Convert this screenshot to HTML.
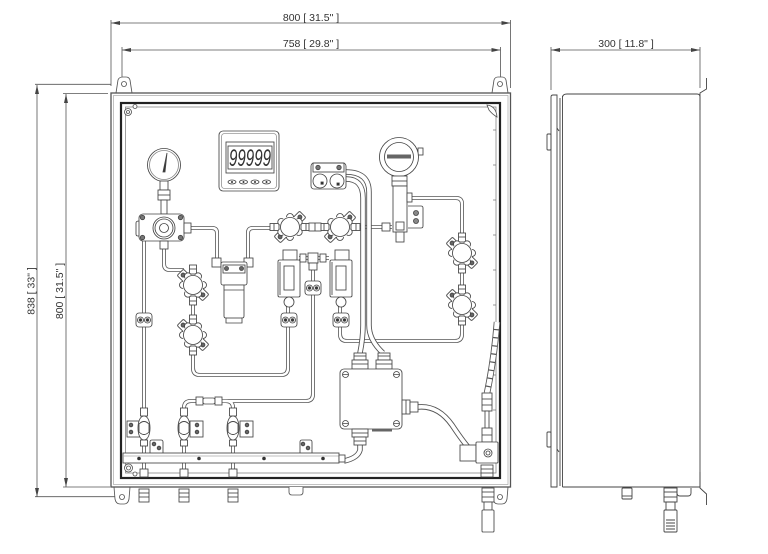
<!DOCTYPE html>
<html><head><meta charset="utf-8"><style>
html,body{margin:0;padding:0;background:#fff;}
svg{display:block;}
text{font-family:"Liberation Sans",sans-serif;fill:#333;}
</style></head><body>
<svg width="768" height="554" viewBox="0 0 768 554" xmlns="http://www.w3.org/2000/svg">
<defs>
 <g id="vlv">
  <g transform="rotate(-45)"><rect x="8" y="-4.5" width="10" height="9" rx="1.5"/><circle cx="14" cy="0" r="2" fill="#666"/></g>
  <g transform="rotate(135)"><rect x="8" y="-4.5" width="10" height="9" rx="1.5"/><circle cx="14" cy="0" r="2" fill="#666"/></g>
  <rect x="-20" y="-3.5" width="9" height="7"/><rect x="11" y="-3.5" width="9" height="7"/>
  <line x1="-16" y1="-3.5" x2="-16" y2="3.5"/><line x1="16" y1="-3.5" x2="16" y2="3.5"/>
  <circle cx="0" cy="-10" r="3.5"/><circle cx="0" cy="10" r="3.5"/>
  <circle cx="8.7" cy="-5" r="3.5"/><circle cx="-8.7" cy="-5" r="3.5"/>
  <circle cx="8.7" cy="5" r="3.5"/><circle cx="-8.7" cy="5" r="3.5"/>
  <circle r="10.5" stroke="none"/>
  <circle r="9.5"/>
 </g>
 <g id="clp">
  <rect x="-8" y="-7" width="16" height="14" rx="3"/>
  <circle cx="-3.5" cy="0" r="3"/><circle cx="3.5" cy="0" r="3"/>
  <circle cx="-3.5" cy="0" r="1.3" fill="#333"/><circle cx="3.5" cy="0" r="1.3" fill="#333"/>
 </g>
 <g id="fitv">
  <rect x="-5" y="0" width="10" height="13"/>
  <line x1="-5" y1="4" x2="5" y2="4"/><line x1="-5" y1="8" x2="5" y2="8"/>
 </g>
 <g id="bv">
  <rect x="-3.5" y="-20" width="7" height="8"/>
  <path d="M0 -12 C8 -12 8 12 0 12 C-8 12 -8 -12 0 -12 Z"/>
  <path d="M-5 -4 Q0 -9 5 -4 L5 4 Q0 9 -5 4 Z"/>
  <rect x="-3.5" y="12" width="7" height="6"/>
 </g>
</defs>

<!-- ============ DIMENSIONS ============ -->
<g stroke="#555" stroke-width="0.8" fill="none">
 <path d="M111 23 H510.5 M122 50 H500.5 M111 20 V86 M510.5 20 V88 M122 47 V80 M500.5 47 V78"/>
 <path d="M37 85 V497 M66 94 V487 M35 84.3 H111 M35 496.7 H115 M63 93.5 H108 M63 487 H110"/>
 <path d="M551 50 H700 M551 47 V90 M700 47 V88"/>
</g>
<g fill="#444">
 <polygon points="111,23 120,21 120,25"/><polygon points="510.5,23 501.5,21 501.5,25"/>
 <polygon points="122,50 131,48 131,52"/><polygon points="500.5,50 491.5,48 491.5,52"/>
 <polygon points="37,85 35,94 39,94"/><polygon points="37,497 35,488 39,488"/>
 <polygon points="66,94 64,103 68,103"/><polygon points="66,487 64,478 68,478"/>
 <polygon points="551,50 560,48 560,52"/><polygon points="700,50 691,48 691,52"/>
</g>
<text x="311" y="21" font-size="10.5" text-anchor="middle">800 [ 31.5" ]</text>
<text x="311" y="47" font-size="10.5" text-anchor="middle">758 [ 29.8" ]</text>
<text x="626" y="47" font-size="10.5" text-anchor="middle">300 [ 11.8" ]</text>
<text transform="translate(34.5,291) rotate(-90)" font-size="10.5" text-anchor="middle">838 [ 33" ]</text>
<text transform="translate(63,291) rotate(-90)" font-size="10.5" text-anchor="middle">800 [ 31.5" ]</text>

<!-- ============ FRONT ENCLOSURE ============ -->
<g stroke="#555" stroke-width="0.85" fill="#fff">
 <path d="M116 93 L118 80 Q119 77 123 77 L126 77 Q129 77 130 80 L132 93 Z"/><circle cx="124" cy="84" r="2.5"/>
 <path d="M492 93 L494 80 Q495 77 498 77 L502 77 Q505 77 506 80 L508 93 Z"/><circle cx="500" cy="84" r="2.5"/>
 <path d="M114 487 L115 499 Q116 504 120 504 L124 504 Q128 504 129 499 L130 487 Z"/><circle cx="122" cy="497" r="2.5"/>
 <path d="M492 487 L493 499 Q494 504 498 504 L502 504 Q506 504 507 499 L508 487 Z"/><circle cx="500" cy="497" r="2.5"/>
</g>
<rect x="111" y="93" width="399.5" height="394" fill="none" stroke="#555" stroke-width="1.3"/>
<rect x="113.5" y="95.5" width="394.5" height="389" fill="none" stroke="#999" stroke-width="0.6"/>
<rect x="121" y="103" width="379" height="375" fill="none" stroke="#222" stroke-width="2.2"/>
<rect x="125.5" y="107" width="370.5" height="366" fill="none" stroke="#888" stroke-width="0.8"/>
<g stroke="#777" stroke-width="0.8">
 <path d="M496 130 h-3 M496 165 h-3 M496 200 h-3 M496 235 h-3 M496 270 h-3 M496 305 h-3 M496 340 h-3 M496 375 h-3 M496 410 h-3 M496 445 h-3"/>
</g>
<g stroke="#555" stroke-width="0.85" fill="#fff">
 <circle cx="128" cy="112" r="3.5"/><circle cx="128" cy="112" r="1.5"/><circle cx="135" cy="106.5" r="2"/>
 <path d="M487 105 Q496 106 497 117 Q492 114 489 110 Z"/>
 <circle cx="128.5" cy="468" r="4"/><circle cx="128.5" cy="468" r="2"/><circle cx="135" cy="474" r="2"/>
 <path d="M289 487 V492 Q289 495 292 495 H300 Q303 495 303 492 V487"/>
</g>

<!-- pipes -->
<g stroke="#555" stroke-width="4" fill="none" stroke-linecap="butt">
 <g id="pp">
  <path d="M144 236 V476"/>
  <path d="M184 228 H212 Q217 228 217 233 V260"/>
  <path d="M248 260 V233 Q248 228 253 228 H272"/>
  <path d="M302 227 H328"/>
  <path d="M352 227 H392"/>
  <path d="M164 240 V264 Q164 270 170 270 H184"/>
  <path d="M193 297 V323"/>
  <path d="M193 347 V368 Q193 375 200 375 H281 Q288 375 288 368 V327"/>
  <path d="M313 262 V281 M313 295 V394 Q313 401 306 401 H222"/>
  <path d="M197 401 H191 Q184 401 184 408 V476"/>
  <path d="M222 401 H226 Q233 401 233 408 V476"/>
  <path d="M340 327 V334 Q340 341 347 341 H455 Q462 341 462 334 V317"/>
  <path d="M408 198 H456 Q462 198 462 204 V241"/>
  <path d="M462 265 V293"/>
  <path d="M288 297 V313 M340 297 V313"/>
  <path d="M299 258 H329"/>
 </g>
</g>
<use href="#pp" stroke="#fff" stroke-width="2.4" fill="none"/>
<!-- cables -->
<g stroke="#555" stroke-width="5.5" fill="none">
 <g id="cb">
  <path d="M346 179 Q363 179 363 198 V325 Q363 338 360 353"/>
  <path d="M346 172 Q369 172 369 192 V325 Q369 340 383 353"/>
  <path d="M418 407 Q438 405 452 425 Q462 440 468 447"/>
  <path d="M360 445 V450 Q358 458 344 461"/>
 </g>
</g>
<use href="#cb" stroke="#fff" stroke-width="3.7" fill="none"/>
<path d="M497 322 Q494 360 487 393" stroke="#555" stroke-width="6.5" fill="none"/>
<path d="M497 322 Q494 360 487 393" stroke="#fff" stroke-width="4.8" fill="none" stroke-dasharray="7 1.2"/>

<g stroke="#444" stroke-width="0.85" fill="#fff">
 <!-- display -->
 <rect x="219" y="131" width="60" height="60" rx="4"/>
 <rect x="221.5" y="133.5" width="55" height="55" rx="3" fill="none" stroke="#999"/>
 <rect x="226" y="142" width="48" height="31"/>
 <rect x="228" y="146" width="44" height="23" fill="none"/>
 <g fill="#fff"><ellipse cx="232" cy="182" rx="4" ry="2"/><ellipse cx="243.5" cy="182" rx="4" ry="2"/><ellipse cx="255" cy="182" rx="4" ry="2"/><ellipse cx="266.5" cy="182" rx="4" ry="2"/></g>
 <g fill="#333" stroke="none"><circle cx="232" cy="182" r="1"/><circle cx="243.5" cy="182" r="1"/><circle cx="255" cy="182" r="1"/><circle cx="266.5" cy="182" r="1"/></g>

 <!-- pressure gauge -->
 <circle cx="164" cy="165" r="16.5"/><circle cx="164" cy="165" r="14.5" fill="none" stroke="#888"/>
 <path d="M163 172 L167 153 L165 172 Z" fill="#333"/>
 <rect x="160" y="181" width="8" height="9"/>
 <rect x="158" y="190" width="12" height="10"/>
 <line x1="158" y1="195" x2="170" y2="195"/>
 <rect x="161" y="200" width="6" height="14"/>
 <!-- regulator -->
 <path d="M136 223 Q136 221 139 221 H146 V236 H138 Q136 236 136 234 Z"/>
 <rect x="139" y="214" width="45" height="27" rx="4"/>
 <circle cx="142.5" cy="217.5" r="2.2" fill="#777"/><circle cx="180.5" cy="217.5" r="2.2" fill="#777"/>
 <circle cx="142.5" cy="237.5" r="2.2" fill="#777"/><circle cx="180.5" cy="237.5" r="2.2" fill="#777"/>
 <circle cx="164" cy="228" r="11"/><circle cx="164" cy="228" r="9"/><circle cx="164" cy="228" r="4.5"/>
 <rect x="184" y="223" width="7" height="10"/>
 <rect x="160" y="241" width="8" height="8"/>

 <!-- filter -->
 <rect x="212" y="258" width="9" height="9"/><rect x="244" y="258" width="9" height="9"/>
 <rect x="221" y="262" width="26" height="23" rx="2"/>
 <rect x="223" y="265" width="22" height="8" fill="none"/>
 <circle cx="226.5" cy="268.5" r="2" fill="#666"/><circle cx="241.5" cy="268.5" r="2" fill="#666"/>
 <path d="M224 285 H244 V316 Q244 318 242 318 V323 H226 V318 Q224 318 224 316 Z"/>
 <line x1="224" y1="290" x2="244" y2="290"/>
 <line x1="226" y1="318" x2="242" y2="318"/>

 <!-- valves -->
 <use href="#vlv" x="290" y="227"/>
 <use href="#vlv" x="340" y="227"/>
 <use href="#vlv" transform="translate(193,285) rotate(90)"/>
 <use href="#vlv" transform="translate(193,335) rotate(90)"/>
 <use href="#vlv" transform="translate(462,253) rotate(90)"/>
 <use href="#vlv" transform="translate(462,305) rotate(90)"/>
 <rect x="309" y="223" width="12" height="8"/><line x1="315" y1="223" x2="315" y2="231"/>
 <rect x="382" y="223" width="8" height="8"/>

 <!-- flowmeters -->
 <rect x="283" y="250" width="14" height="10"/>
 <rect x="278" y="260" width="22" height="37" rx="1.5"/>
 <rect x="284" y="266" width="10" height="24"/>
 <line x1="280" y1="262" x2="280" y2="295"/>
 <circle cx="289" cy="302" r="5"/>
 <rect x="335" y="250" width="14" height="10"/>
 <rect x="330" y="260" width="22" height="37" rx="1.5"/>
 <rect x="336" y="266" width="10" height="24"/>
 <line x1="332" y1="262" x2="332" y2="295"/>
 <circle cx="341" cy="302" r="5"/>
 <!-- tee -->
 <rect x="300" y="254" width="6" height="8"/><rect x="320" y="254" width="6" height="8"/>
 <rect x="308" y="253" width="10" height="10"/>
 <rect x="309" y="263" width="8" height="7"/>
 <use href="#clp" x="313" y="288"/>
 <use href="#clp" x="289" y="320"/>
 <use href="#clp" x="341" y="320"/>
 <use href="#clp" x="144" y="320"/>

 <!-- gauge pair box -->
 <rect x="311" y="163" width="35" height="26" rx="3"/>
 <rect x="313" y="163" width="31" height="9" fill="none"/>
 <circle cx="318" cy="167.5" r="2.2" fill="#777"/><circle cx="339" cy="167.5" r="2.2" fill="#777"/>
 <circle cx="320" cy="181" r="7"/><circle cx="337" cy="181" r="7"/>
 <rect x="321" y="182" width="2.2" height="2.2" fill="#222"/><rect x="337" y="183" width="2.2" height="2.2" fill="#222"/>

 <!-- transmitter -->
 <rect x="418" y="148" width="5" height="7"/>
 <circle cx="399" cy="157" r="19.5"/>
 <circle cx="399" cy="157" r="14.5"/>
 <rect x="387" y="154.5" width="24" height="4" fill="#666" stroke="none"/>
 <rect x="392" y="176" width="15" height="10"/>
 <line x1="392" y1="181" x2="407" y2="181"/>
 <rect x="393" y="186" width="14" height="46"/>
 <rect x="407" y="193" width="5" height="9"/>
 <path d="M408 206 H421 Q423 206 423 208 V226 Q423 228 421 228 H408"/>
 <circle cx="416" cy="213" r="2.5" fill="#888"/><circle cx="416" cy="221" r="2.5" fill="#888"/>
 <rect x="396" y="222" width="8" height="8"/>
 <rect x="396" y="232" width="8" height="10"/>

 <!-- junction box -->
 <rect x="354" y="353" width="12" height="7"/><rect x="352" y="360" width="16" height="9"/>
 <line x1="354" y1="356" x2="366" y2="356"/><line x1="352" y1="364" x2="368" y2="364"/>
 <rect x="378" y="353" width="12" height="7"/><rect x="376" y="360" width="16" height="9"/>
 <line x1="378" y1="356" x2="390" y2="356"/><line x1="376" y1="364" x2="392" y2="364"/>
 <rect x="340" y="369" width="62" height="60" rx="4"/>
 <g fill="#fff"><circle cx="345.5" cy="374.5" r="3"/><circle cx="396.5" cy="374.5" r="3"/><circle cx="345.5" cy="423.5" r="3"/><circle cx="396.5" cy="423.5" r="3"/></g>
 <path d="M343 374.5 h5 M394 374.5 h5 M343 423.5 h5 M394 423.5 h5"/>
 <rect x="402" y="400" width="8" height="14"/><rect x="410" y="402" width="8" height="10"/>
 <line x1="406" y1="400" x2="406" y2="414"/>
 <rect x="352" y="429" width="16" height="8"/><rect x="354" y="437" width="12" height="8"/>
 <line x1="352" y1="433" x2="368" y2="433"/><line x1="354" y1="441" x2="366" y2="441"/>
 <rect x="372" y="429" width="20" height="2.5" fill="#666" stroke="none"/>

 <!-- right fittings and box -->
 <rect x="482" y="393" width="10" height="18"/>
 <line x1="482" y1="399" x2="492" y2="399"/><line x1="482" y1="405" x2="492" y2="405"/>
 <rect x="485" y="411" width="4" height="18"/>
 <rect x="482" y="428" width="10" height="14"/><line x1="482" y1="435" x2="492" y2="435"/>
 <rect x="460" y="445" width="16" height="16"/>
 <rect x="476" y="442" width="22" height="21" rx="1"/>
 <circle cx="488" cy="453" r="4"/><circle cx="488" cy="453" r="2"/>
 <rect x="481" y="465" width="12" height="12"/>
 <line x1="481" y1="469" x2="493" y2="469"/><line x1="481" y1="473" x2="493" y2="473"/>

 <!-- bottom rail -->
 <path d="M150 453 V442 Q150 440 152 440 H161 Q163 440 163 442 V453"/>
 <circle cx="154" cy="444" r="1.8" fill="#666"/><circle cx="159" cy="448" r="1.8" fill="#666"/>
 <path d="M300 453 V442 Q300 440 302 440 H310 Q312 440 312 442 V453"/>
 <circle cx="303" cy="444" r="1.8" fill="#666"/><circle cx="308" cy="448" r="1.8" fill="#666"/>
 <rect x="123" y="453" width="216" height="10"/>
 <line x1="123" y1="456" x2="339" y2="456" stroke="#aaa"/>
 <rect x="339" y="455" width="6" height="7"/>
 <g fill="#333" stroke="none"><circle cx="139" cy="458.5" r="1.8"/><circle cx="199" cy="458.5" r="1.8"/><circle cx="264" cy="458.5" r="1.8"/><circle cx="323" cy="458.5" r="1.8"/></g>

 <!-- bottom valves -->
 <rect x="127" y="421" width="13" height="16"/>
 <circle cx="131" cy="425" r="1.8" fill="#666"/><circle cx="131" cy="432" r="1.8" fill="#666"/>
 <rect x="190" y="421" width="13" height="16"/>
 <circle cx="197" cy="425" r="1.8" fill="#666"/><circle cx="197" cy="432" r="1.8" fill="#666"/>
 <rect x="240" y="421" width="13" height="16"/>
 <circle cx="247" cy="425" r="1.8" fill="#666"/><circle cx="247" cy="432" r="1.8" fill="#666"/>
 <use href="#bv" x="144" y="428"/>
 <use href="#bv" x="184" y="428"/>
 <use href="#bv" x="233" y="428"/>
 <rect x="196" y="397" width="7" height="8"/><rect x="203" y="398" width="12" height="6" rx="2"/><rect x="215" y="397" width="7" height="8"/>
 <!-- inner bottom fittings -->
 <rect x="140" y="469" width="8" height="8"/><rect x="180" y="469" width="8" height="8"/><rect x="229" y="469" width="8" height="8"/>
 <!-- outer bottom fittings -->
 <use href="#fitv" x="144" y="489"/>
 <use href="#fitv" x="184" y="489"/>
 <use href="#fitv" x="233" y="489"/>
 <rect x="482" y="488" width="12" height="14"/>
 <line x1="482" y1="492" x2="494" y2="492"/><line x1="482" y1="497" x2="494" y2="497"/>
 <rect x="484" y="502" width="8" height="8"/>
 <rect x="482" y="510" width="12" height="22" rx="1"/>
</g>

<!-- ============ SIDE VIEW ============ -->
<g stroke="#444" stroke-width="0.9" fill="none">
 <path d="M551 97 Q551 95 553 95 H557 V487 H551 Z"/>
 <path d="M560 98 V486 M562.5 96 V487"/>
 <path d="M562.5 97 Q563 94 567 94 H697 Q700 94 700 97 V487 H562.5"/>
 <path d="M706.5 78 V89 L700 93 V110"/>
 <path d="M700 472 V488 L706.5 494 V505"/>
 <rect x="547" y="134" width="4" height="16" rx="1"/>
 <rect x="547" y="432" width="4" height="15" rx="1"/>
 <path d="M557 128 l2 3 M557 449 l2 3"/>
 <rect x="622" y="488" width="10" height="11" rx="1"/>
 <line x1="622" y1="496" x2="632" y2="496"/>
 <rect x="664" y="488" width="13" height="14"/>
 <line x1="664" y1="492" x2="677" y2="492"/><line x1="664" y1="497" x2="677" y2="497"/>
 <rect x="666" y="502" width="9" height="8"/>
 <rect x="664" y="510" width="13" height="22" rx="1"/>
 <path d="M666 520 h9 M666 523 h9 M666 526 h9 M666 529 h9"/>
 <path d="M677 488 V493 Q677 496 680 496 H688 Q691 496 691 493 V488"/>
</g>

<!-- LCD digits -->
<text x="229" y="166" font-size="24" font-style="italic" fill="#111" textLength="42" lengthAdjust="spacingAndGlyphs">99999</text>
</svg>
</body></html>
